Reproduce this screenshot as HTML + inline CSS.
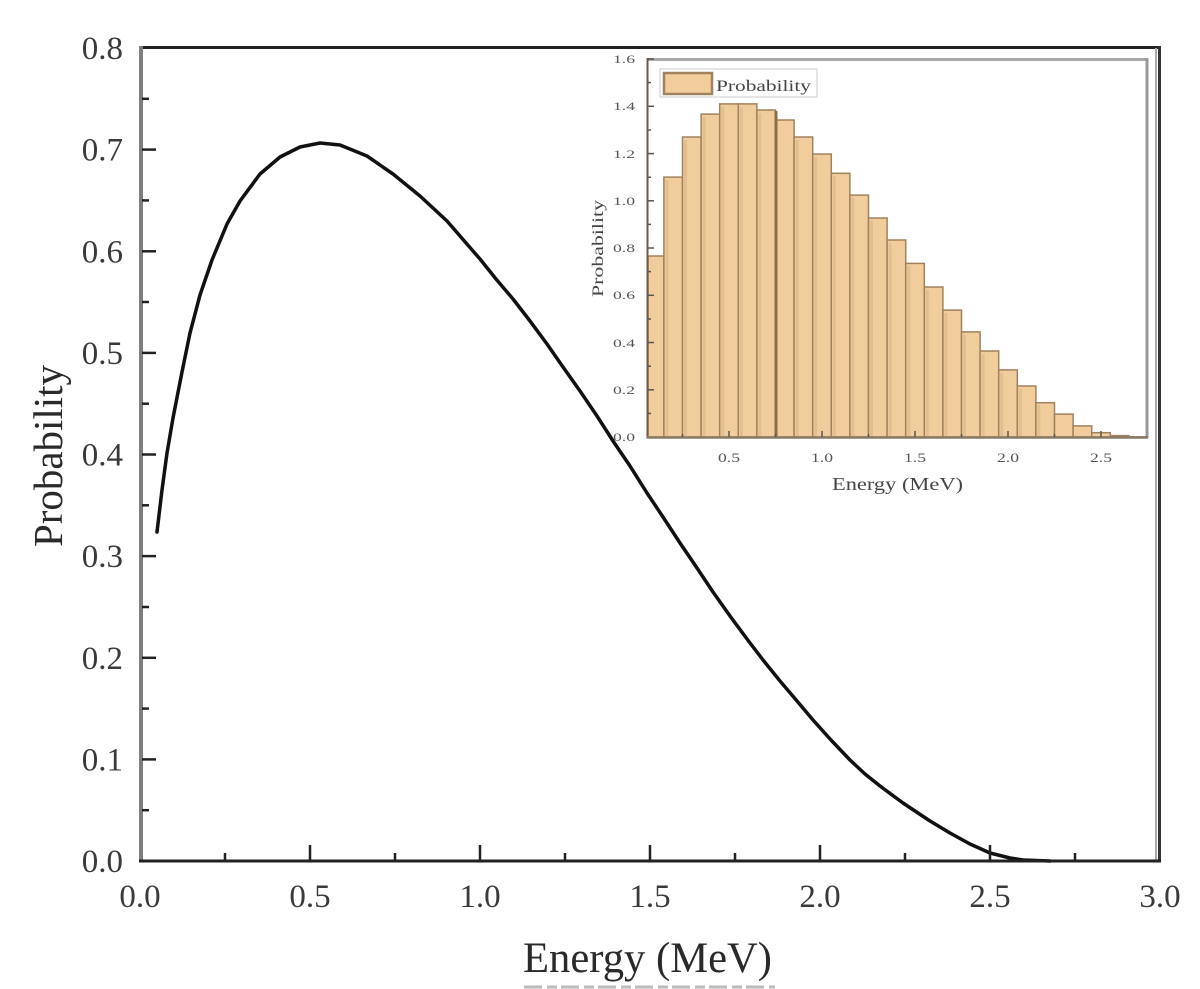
<!DOCTYPE html>
<html><head><meta charset="utf-8"><style>
html,body{margin:0;padding:0;background:#fff;}
svg{display:block;}
text{font-family:"Liberation Serif","DejaVu Serif",serif;}
</style></head><body>
<svg width="1200" height="989" viewBox="0 0 1200 989" xmlns="http://www.w3.org/2000/svg">
<rect width="1200" height="989" fill="#fff"/>

<!-- main curve -->
<path d="M157,532 L162,490 L167,453 L173,418 L182,372 L190,333 L200,295 L212,260 L227,224 L240,201 L260,174 L280,157 L300,147 L320,143 L340,145 L367,156 L393,174 L420,196 L447,221 L473,251 L480,259 L496,279 L513,299 L530,321 L547,344 L563,367 L580,391 L597,416 L613,441 L630,466 L647,493 L663,517 L680,543 L697,568 L713,592 L730,616 L747,639 L763,660 L780,681 L797,701 L813,720 L831,740 L850,760 L865,774 L880,786 L903,803 L930,821 L950,833 L970,844 L990,853 L1010,858 L1023,860 L1050,861" fill="none" stroke="#111" stroke-width="3.5" stroke-linejoin="round" stroke-linecap="round"/>

<!-- inset background -->
<rect x="648" y="60" width="499" height="377" fill="#fff"/>

<!-- histogram bars -->
<g fill="#F1CD9E" stroke="#A0825C" stroke-width="1.5">
<rect x="648" y="256" width="15.9" height="181"/>
<rect x="663.9" y="177.1" width="18.6" height="259.9"/>
<rect x="682.5" y="137" width="18.6" height="300"/>
<rect x="701.1" y="114.1" width="18.6" height="322.9"/>
<rect x="719.7" y="103.9" width="18.6" height="333.1"/>
<rect x="738.3" y="103.9" width="18.6" height="333.1"/>
<rect x="756.9" y="110" width="18.6" height="327"/>
<rect x="775.5" y="120" width="18.6" height="317"/>
<rect x="794.1" y="137" width="18.6" height="300"/>
<rect x="812.7" y="154" width="18.6" height="283"/>
<rect x="831.3" y="173.3" width="18.6" height="263.7"/>
<rect x="849.9" y="195.1" width="18.6" height="241.9"/>
<rect x="868.5" y="218" width="18.6" height="219"/>
<rect x="887.1" y="240" width="18.6" height="197"/>
<rect x="905.7" y="263.4" width="18.6" height="173.6"/>
<rect x="924.3" y="287" width="18.6" height="150"/>
<rect x="942.9" y="310.1" width="18.6" height="126.9"/>
<rect x="961.5" y="331.9" width="18.6" height="105.1"/>
<rect x="980.1" y="351" width="18.6" height="86"/>
<rect x="998.7" y="369.9" width="18.6" height="67.1"/>
<rect x="1017.3" y="386" width="18.6" height="51"/>
<rect x="1035.9" y="402.7" width="18.6" height="34.3"/>
<rect x="1054.5" y="414.1" width="18.6" height="22.9"/>
<rect x="1073.1" y="425.9" width="18.6" height="11.1"/>
<rect x="1091.7" y="432.7" width="18.6" height="4.3"/>
<rect x="1110.3" y="435.6" width="18.6" height="1.4"/>
</g>
<!-- inner shading strips -->
<g fill="#D9B483" opacity="0.55">
<rect x="665.5" y="180" width="3" height="257"/>
<rect x="684" y="140" width="3" height="297"/>
<rect x="702.6" y="117" width="3" height="320"/>
<rect x="721.2" y="107" width="3" height="330"/>
<rect x="739.8" y="107" width="3" height="330"/>
<rect x="758.4" y="113" width="3" height="324"/>
<rect x="795.6" y="140" width="3" height="297"/>
<rect x="814.2" y="157" width="3" height="280"/>
<rect x="832.8" y="176" width="3" height="261"/>
<rect x="851.4" y="198" width="3" height="239"/>
<rect x="870" y="221" width="3" height="216"/>
<rect x="888.6" y="243" width="3" height="194"/>
<rect x="907.2" y="266" width="3" height="171"/>
<rect x="925.8" y="290" width="3" height="147"/>
<rect x="944.4" y="313" width="3" height="124"/>
<rect x="963" y="335" width="3" height="102"/>
<rect x="981.6" y="354" width="3" height="83"/>
<rect x="1000.2" y="373" width="3" height="64"/>
<rect x="1018.8" y="389" width="3" height="48"/>
<rect x="1037.4" y="405" width="3" height="32"/>
</g>
<line x1="776" y1="111" x2="776" y2="437" stroke="#8a6d4a" stroke-width="3"/>

<!-- inset frame -->
<line x1="647" y1="59.5" x2="1148" y2="59.5" stroke="#aaa" stroke-width="3"/>
<line x1="1147" y1="58" x2="1147" y2="438" stroke="#999" stroke-width="3"/>
<line x1="1129" y1="437" x2="1147" y2="437" stroke="#555" stroke-width="1.5"/>
<line x1="647.5" y1="58" x2="647.5" y2="438.5" stroke="#6b5a45" stroke-width="2"/>
<line x1="647" y1="437.5" x2="1148" y2="437.5" stroke="#8a7a65" stroke-width="2.5"/>

<!-- inset ticks -->
<g stroke="#555" stroke-width="1.5">
<line x1="648" y1="59" x2="654" y2="59"/>
<line x1="648" y1="106.3" x2="654" y2="106.3"/>
<line x1="648" y1="153.6" x2="654" y2="153.6"/>
<line x1="648" y1="200.8" x2="654" y2="200.8"/>
<line x1="648" y1="248" x2="654" y2="248"/>
<line x1="648" y1="295.3" x2="654" y2="295.3"/>
<line x1="648" y1="342.5" x2="654" y2="342.5"/>
<line x1="648" y1="389.8" x2="654" y2="389.8"/>
<line x1="648" y1="82.6" x2="651" y2="82.6"/>
<line x1="648" y1="130" x2="651" y2="130"/>
<line x1="648" y1="177.2" x2="651" y2="177.2"/>
<line x1="648" y1="224.4" x2="651" y2="224.4"/>
<line x1="648" y1="271.6" x2="651" y2="271.6"/>
<line x1="648" y1="319" x2="651" y2="319"/>
<line x1="648" y1="366.2" x2="651" y2="366.2"/>
<line x1="648" y1="413.4" x2="651" y2="413.4"/>
<line x1="729" y1="437" x2="729" y2="431"/>
<line x1="822" y1="437" x2="822" y2="431"/>
<line x1="915" y1="437" x2="915" y2="431"/>
<line x1="1008" y1="437" x2="1008" y2="431"/>
<line x1="1101" y1="437" x2="1101" y2="431"/>
<line x1="682.5" y1="437" x2="682.5" y2="434"/>
<line x1="775.5" y1="437" x2="775.5" y2="434"/>
<line x1="868.5" y1="437" x2="868.5" y2="434"/>
<line x1="961.5" y1="437" x2="961.5" y2="434"/>
<line x1="1054.5" y1="437" x2="1054.5" y2="434"/>
</g>

<!-- inset tick labels -->
<g font-size="12" fill="#555" text-anchor="end">
<text x="635" y="63" textLength="22" lengthAdjust="spacingAndGlyphs">1.6</text>
<text x="635" y="110" textLength="22" lengthAdjust="spacingAndGlyphs">1.4</text>
<text x="635" y="158" textLength="22" lengthAdjust="spacingAndGlyphs">1.2</text>
<text x="635" y="205" textLength="22" lengthAdjust="spacingAndGlyphs">1.0</text>
<text x="635" y="252" textLength="22" lengthAdjust="spacingAndGlyphs">0.8</text>
<text x="635" y="299" textLength="22" lengthAdjust="spacingAndGlyphs">0.6</text>
<text x="635" y="347" textLength="22" lengthAdjust="spacingAndGlyphs">0.4</text>
<text x="635" y="394" textLength="22" lengthAdjust="spacingAndGlyphs">0.2</text>
<text x="635" y="441" textLength="22" lengthAdjust="spacingAndGlyphs">0.0</text>
</g>
<g font-size="13" fill="#555" text-anchor="middle">
<text x="729" y="462" textLength="22" lengthAdjust="spacingAndGlyphs">0.5</text>
<text x="822" y="462" textLength="22" lengthAdjust="spacingAndGlyphs">1.0</text>
<text x="915" y="462" textLength="22" lengthAdjust="spacingAndGlyphs">1.5</text>
<text x="1008" y="462" textLength="22" lengthAdjust="spacingAndGlyphs">2.0</text>
<text x="1101" y="462" textLength="22" lengthAdjust="spacingAndGlyphs">2.5</text>
</g>
<text x="832" y="490" font-size="18" fill="#444" textLength="131" lengthAdjust="spacingAndGlyphs">Energy (MeV)</text>
<text transform="translate(603,297) rotate(-90)" font-size="16" fill="#444" textLength="97" lengthAdjust="spacingAndGlyphs">Probability</text>

<!-- legend -->
<rect x="660" y="69" width="157" height="28" fill="#fff" stroke="#ccc" stroke-width="1"/>
<rect x="664" y="73" width="48" height="21" fill="#F1CD9E" stroke="#A0825C" stroke-width="2.5"/>
<text x="716" y="91" font-size="16" fill="#444" textLength="95" lengthAdjust="spacingAndGlyphs">Probability</text>

<!-- main frame -->
<line x1="139" y1="47.5" x2="1161" y2="47.5" stroke="#222" stroke-width="3"/>
<line x1="1156" y1="48" x2="1156" y2="860" stroke="#aaa" stroke-width="2"/>
<line x1="1159.5" y1="46" x2="1159.5" y2="862.5" stroke="#333" stroke-width="3"/>
<line x1="141" y1="46" x2="141" y2="862.5" stroke="#7f7f7f" stroke-width="4"/>
<line x1="139" y1="861" x2="1161" y2="861" stroke="#222" stroke-width="3"/>

<!-- main y ticks -->
<g stroke="#222" stroke-width="2.5">
<line x1="142" y1="149.6" x2="156" y2="149.6"/>
<line x1="142" y1="251.3" x2="156" y2="251.3"/>
<line x1="142" y1="352.9" x2="156" y2="352.9"/>
<line x1="142" y1="454.5" x2="156" y2="454.5"/>
<line x1="142" y1="556.1" x2="156" y2="556.1"/>
<line x1="142" y1="657.8" x2="156" y2="657.8"/>
<line x1="142" y1="759.4" x2="156" y2="759.4"/>
<line x1="142" y1="98.8" x2="149" y2="98.8"/>
<line x1="142" y1="200.4" x2="149" y2="200.4"/>
<line x1="142" y1="302" x2="149" y2="302"/>
<line x1="142" y1="403.7" x2="149" y2="403.7"/>
<line x1="142" y1="505.3" x2="149" y2="505.3"/>
<line x1="142" y1="607" x2="149" y2="607"/>
<line x1="142" y1="708.6" x2="149" y2="708.6"/>
<line x1="142" y1="810.2" x2="149" y2="810.2"/>
</g>
<!-- main x ticks -->
<g stroke="#222" stroke-width="2.5">
<line x1="310" y1="860" x2="310" y2="845"/>
<line x1="480" y1="860" x2="480" y2="845"/>
<line x1="650" y1="860" x2="650" y2="845"/>
<line x1="820" y1="860" x2="820" y2="845"/>
<line x1="990" y1="860" x2="990" y2="845"/>
<line x1="225" y1="860" x2="225" y2="853"/>
<line x1="395" y1="860" x2="395" y2="853"/>
<line x1="565" y1="860" x2="565" y2="853"/>
<line x1="735" y1="860" x2="735" y2="853"/>
<line x1="905" y1="860" x2="905" y2="853"/>
<line x1="1075" y1="860" x2="1075" y2="853"/>
</g>

<!-- main y tick labels -->
<g font-size="33" fill="#3a3a3a" text-anchor="end">
<text x="123" y="59">0.8</text>
<text x="123" y="160.6">0.7</text>
<text x="123" y="262.3">0.6</text>
<text x="123" y="363.9">0.5</text>
<text x="123" y="465.5">0.4</text>
<text x="123" y="567.1">0.3</text>
<text x="123" y="668.8">0.2</text>
<text x="123" y="770.4">0.1</text>
<text x="123" y="872">0.0</text>
</g>
<!-- main x tick labels -->
<g font-size="33" fill="#3a3a3a" text-anchor="middle">
<text x="140" y="907">0.0</text>
<text x="310" y="907">0.5</text>
<text x="480" y="907">1.0</text>
<text x="650" y="907">1.5</text>
<text x="820" y="907">2.0</text>
<text x="990" y="907">2.5</text>
<text x="1160" y="907">3.0</text>
</g>

<!-- axis titles -->
<text x="523" y="972" font-size="43" fill="#2a2a2a" textLength="249" lengthAdjust="spacingAndGlyphs">Energy (MeV)</text>
<text transform="translate(62,547) rotate(-90)" font-size="41" fill="#2a2a2a" textLength="182" lengthAdjust="spacingAndGlyphs">Probability</text>

<!-- faint cut-off line below -->
<line x1="524" y1="987" x2="775" y2="987" stroke="#bbb" stroke-width="3" stroke-dasharray="18 5 10 4"/>
</svg>
</body></html>
